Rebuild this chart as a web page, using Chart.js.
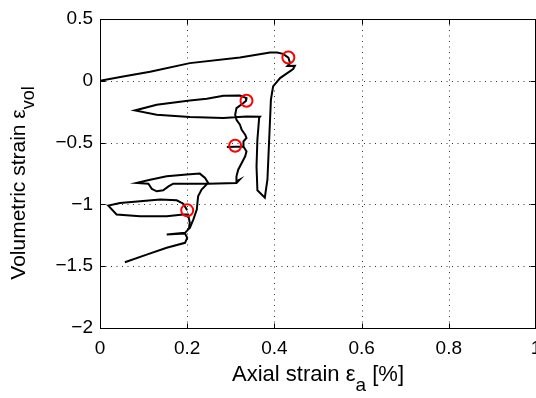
<!DOCTYPE html>
<html>
<head>
<meta charset="utf-8">
<script src="https://cdn.jsdelivr.net/npm/chart.js@4.4.0/dist/chart.umd.min.js"></script>
<style>
html, body { margin: 0; padding: 0; background: #fff; overflow: hidden; }
#wrap { width: 560px; height: 398px; }
</style>
</head>
<body>
<div id="wrap"><canvas id="chart" width="560" height="398"></canvas></div>
<script>
const xTicks = [0, 0.2, 0.4, 0.6, 0.8, 1];
const xTickLabels = ['0', '0.2', '0.4', '0.6', '0.8', '1'];
const yTicks = [-2, -1.5, -1, -0.5, 0, 0.5];
const yTickLabels = ['\u22122', '\u22121.5', '\u22121', '\u22120.5', '0', '0.5'];

// main trace: first loading, big unloading loop, then the following loops
const mainX = [0, 0.053, 0.115, 0.206, 0.321, 0.390, 0.406, 0.420, 0.432, 0.436, 0.430, 0.447, 0.443,
  0.413, 0.397, 0.392, 0.388, 0.384, 0.378, 0.361, 0.359, 0.361, 0.365, 0.367,
  0.336, 0.283, 0.206, 0.130, 0.080, 0.130, 0.206, 0.245, 0.283, 0.321, 0.336, 0.335,
  0.329, 0.313, 0.310, 0.313, 0.321, 0.325, 0.333, 0.336, 0.329, 0.329, 0.291, 0.329,
  0.336, 0.333, 0.325, 0.317, 0.313, 0.313, 0.320, 0.313,
  0.248, 0.222, 0.168, 0.157, 0.145, 0.130, 0.119, 0.111, 0.084,
  0.115, 0.153, 0.199, 0.229, 0.241, 0.248,
  0.233, 0.225, 0.222, 0.214, 0.206, 0.202, 0.195, 0.153, 0.195, 0.200, 0.195, 0.153, 0.107, 0.057];
const mainY = [0, 0.035, 0.073, 0.143, 0.188, 0.229, 0.229, 0.218, 0.188, 0.143, 0.120, 0.122, 0.095,
  0.022, -0.046, -0.153, -0.477, -0.800, -0.945, -0.886, -0.692, -0.477, -0.300, -0.290,
  -0.288, -0.300, -0.293, -0.275, -0.240, -0.194, -0.159, -0.145, -0.121, -0.119, -0.140, -0.162,
  -0.180, -0.221, -0.275, -0.315, -0.355, -0.396, -0.436, -0.463, -0.490, -0.531, -0.535, -0.531,
  -0.571, -0.611, -0.665, -0.719, -0.773, -0.813, -0.800, -0.826,
  -0.832, -0.832, -0.832, -0.854, -0.886, -0.894, -0.875, -0.832, -0.826,
  -0.800, -0.773, -0.759, -0.751, -0.786, -0.826,
  -0.880, -0.935, -1.042, -1.123, -1.190, -1.204, -1.230, -1.244, -1.236, -1.271, -1.311, -1.351, -1.406, -1.468];

// last small loop around the lowest peak
const loopX = [0.200, 0.191, 0.176, 0.138, 0.092, 0.046, 0.019, 0.038, 0.092, 0.153, 0.191, 0.202, 0.206, 0.204];
const loopY = [-1.048, -0.994, -0.967, -0.961, -0.975, -0.988, -1.010, -1.082, -1.096, -1.096, -1.082, -1.082, -1.149, -1.190];

// peak markers
const peakX = [0.432, 0.336, 0.310, 0.200];
const peakY = [0.188, -0.162, -0.525, -1.048];

const FONT = '"Liberation Sans", Arial, Helvetica, sans-serif';

function pts(xs, ys) {
  return xs.map((x, i) => ({ x: x, y: ys[i] }));
}

const frame = {
  id: 'frame',
  beforeDatasetsDraw(chart) {
    const { ctx, chartArea: a, scales } = chart;
    ctx.save();
    ctx.strokeStyle = '#333';
    ctx.lineWidth = 1;
    ctx.setLineDash([1, 4.5]);
    xTicks.forEach(v => {
      const px = Math.round(scales.x.getPixelForValue(v)) + 0.5;
      ctx.beginPath(); ctx.moveTo(px, a.bottom); ctx.lineTo(px, a.top); ctx.stroke();
    });
    yTicks.forEach(v => {
      const py = Math.round(scales.y.getPixelForValue(v)) + 0.5;
      ctx.beginPath(); ctx.moveTo(a.left, py); ctx.lineTo(a.right, py); ctx.stroke();
    });
    ctx.restore();
  },
  afterDraw(chart) {
    const { ctx, chartArea: a, scales } = chart;
    const L = Math.round(a.left) + 0.5, R = Math.round(a.right) - 0.5;
    const T = Math.round(a.top) + 0.5, B = Math.round(a.bottom) + 0.5;
    ctx.save();
    ctx.strokeStyle = '#000';
    ctx.lineWidth = 1;
    ctx.strokeRect(L, T, R - L, B - T);
    ctx.beginPath();
    xTicks.forEach(v => {
      const px = Math.round(scales.x.getPixelForValue(v)) + 0.5;
      ctx.moveTo(px, B); ctx.lineTo(px, B - 5);
      ctx.moveTo(px, T); ctx.lineTo(px, T + 5);
    });
    yTicks.forEach(v => {
      const py = Math.round(scales.y.getPixelForValue(v)) + 0.5;
      ctx.moveTo(L, py); ctx.lineTo(L + 5, py);
      ctx.moveTo(R, py); ctx.lineTo(R - 5, py);
    });
    ctx.stroke();

    // axis titles with subscripts
    ctx.fillStyle = '#000';
    ctx.textBaseline = 'alphabetic';
    ctx.textAlign = 'left';

    function titleParts(parts, big, small) {
      let w = 0;
      parts.forEach(p => { ctx.font = p.sub ? small : big; p.w = ctx.measureText(p.t).width; w += p.w; });
      return w;
    }
    function drawParts(parts, start, shift, big, small) {
      let x = start;
      parts.forEach(p => {
        ctx.font = p.sub ? small : big;
        ctx.fillText(p.t, x, p.sub ? shift : 0);
        x += p.w;
      });
    }

    const xBig = '22px ' + FONT, xSmall = '19px ' + FONT;
    const xt = [{ t: 'Axial strain \u03b5' }, { t: 'a', sub: true }, { t: ' [%]' }];
    const xw = titleParts(xt, xBig, xSmall);
    ctx.save();
    ctx.translate((a.left + a.right) / 2, 381);
    drawParts(xt, -xw / 2, 10, xBig, xSmall);
    ctx.restore();

    const yBig = '21px ' + FONT, ySmall = '18px ' + FONT;
    const yt = [{ t: 'Volumetric strain \u03b5' }, { t: 'vol', sub: true }];
    const yw = titleParts(yt, yBig, ySmall);
    ctx.save();
    ctx.translate(25, 183);
    ctx.rotate(-Math.PI / 2);
    drawParts(yt, -yw / 2, 9, yBig, ySmall);
    ctx.restore();

    ctx.restore();
  }
};

new Chart(document.getElementById('chart').getContext('2d'), {
  type: 'scatter',
  data: {
    datasets: [
      {
        data: pts(peakX, peakY),
        showLine: false,
        pointRadius: 6,
        pointBorderWidth: 2,
        pointBorderColor: '#ff0000',
        pointBackgroundColor: 'rgba(0,0,0,0)',
        order: 0
      },
      {
        data: pts(mainX, mainY),
        showLine: true,
        borderColor: '#000',
        borderWidth: 2,
        pointRadius: 0,
        tension: 0,
        order: 1
      },
      {
        data: pts(loopX, loopY),
        showLine: true,
        borderColor: '#000',
        borderWidth: 2,
        pointRadius: 0,
        tension: 0,
        order: 1
      }
    ]
  },
  options: {
    responsive: false,
    animation: false,
    events: [],
    layout: { padding: { left: 0, right: 24, top: 19, bottom: 0 } },
    plugins: {
      legend: { display: false },
      tooltip: { enabled: false }
    },
    scales: {
      x: {
        type: 'linear',
        min: 0,
        max: 1,
        afterBuildTicks: s => { s.ticks = xTicks.map(v => ({ value: v })); },
        afterFit: s => { s.height = 70; },
        grid: { display: false, drawTicks: false },
        border: { display: false },
        ticks: {
          callback: (v, i) => xTickLabels[i],
          color: '#000',
          padding: 9,
          maxRotation: 0,
          autoSkip: false,
          font: { family: FONT, size: 19 }
        }
      },
      y: {
        type: 'linear',
        min: -2,
        max: 0.5,
        afterBuildTicks: s => { s.ticks = yTicks.map(v => ({ value: v })); },
        afterFit: s => { s.width = 100; },
        grid: { display: false, drawTicks: false },
        border: { display: false },
        ticks: {
          callback: (v, i) => yTickLabels[i],
          color: '#000',
          padding: 7,
          autoSkip: false,
          font: { family: FONT, size: 19 }
        }
      }
    }
  },
  plugins: [frame]
});
</script>
</body>
</html>
